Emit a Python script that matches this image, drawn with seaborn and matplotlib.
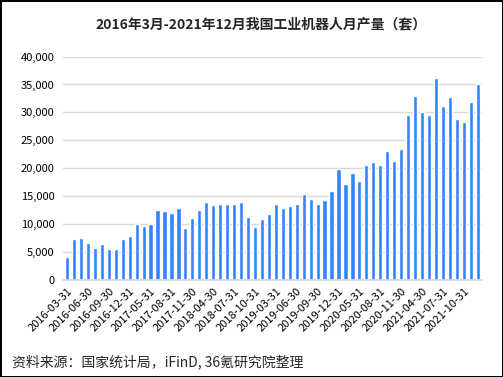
import pandas as pd
import matplotlib
matplotlib.use("Agg")
import matplotlib.pyplot as plt
import seaborn as sns

sns.set_theme(style="white")
plt.rcParams['font.family'] = ['Noto Sans CJK SC', 'DejaVu Sans']
plt.rcParams['axes.unicode_minus'] = False

# monthly output, Jan/Feb not reported separately
months = [d.strftime('%Y-%m-%d') for d in pd.date_range('2016-03-31', '2021-12-31', freq='ME')
          if d.month > 2]
output = [4100, 7350, 7550, 6700, 5750, 6500, 5550, 5550, 7350, 7900,
          10050, 9700, 10050, 12550, 12400, 12000, 12900, 9350, 11100, 12550,
          14000, 13450, 13650, 13650, 13650, 14000, 11300, 9500, 10950, 11850,
          13650, 12900, 13300, 13650, 15400, 14550, 13650, 14350, 15950, 19900,
          17200, 19200, 17750, 20650, 21150, 20650, 23150, 21350, 23500, 29600,
          33000, 30150, 29600, 36250, 31200, 32850, 28900, 28350, 31950, 35150]

df = pd.DataFrame({'date': months, 'output': output})

fig = plt.figure(figsize=(5.03, 3.77), dpi=100)
fig.patch.set_edgecolor('black')
fig.patch.set_linewidth(2)
ax = fig.add_axes([0.125, 0.257, 0.833, 0.593])

sns.barplot(data=df, x='date', y='output', color='#3385ff', saturation=1,
            width=0.6, ax=ax)

ax.set_ylim(0, 40000)
ax.set_xlim(-0.6, len(months) - 0.4)
ax.set_yticks(range(0, 40001, 5000))
ax.set_yticklabels([f'{v:,}' for v in range(0, 40001, 5000)], fontsize=8)
ax.yaxis.grid(True, color='#d9d9d9', linewidth=1)
ax.set_axisbelow(True)
for s in ['top', 'right', 'left']:
    ax.spines[s].set_visible(False)
ax.spines['bottom'].set_color('#d9d9d9')
ax.tick_params(axis='both', length=0, pad=6, colors='black')

ticks = list(range(0, len(months), 3))
ax.set_xticks(ticks)
ax.set_xticklabels([months[i] for i in ticks], rotation=45, ha='right',
                   rotation_mode='anchor', fontsize=8)
ax.tick_params(axis='x', pad=4)
ax.set_xlabel('')
ax.set_ylabel('')

fig.text(0.519, 0.935, '2016年3月-2021年12月我国工业机器人月产量（套）',
         ha='center', va='center', fontsize=10, fontweight='bold')
fig.text(0.024, 0.04, '资料来源：国家统计局，iFinD, 36氪研究院整理',
         ha='left', va='center', fontsize=10)

fig.savefig('out.png', dpi=100)
